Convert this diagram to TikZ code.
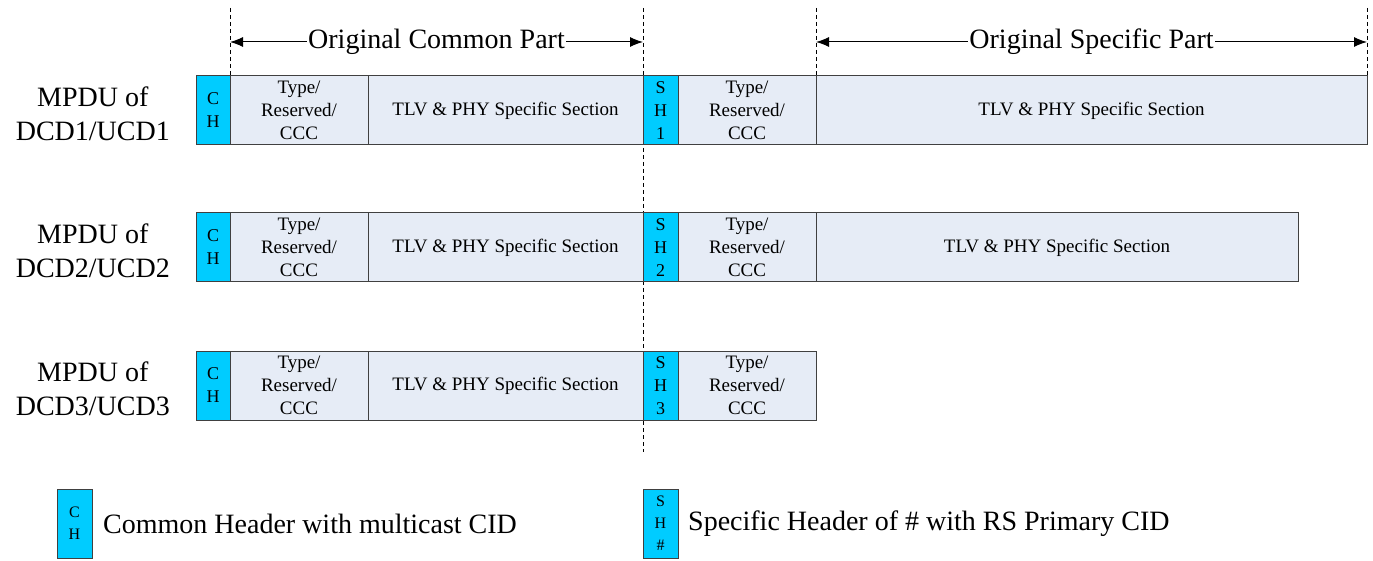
\documentclass[tikz,border=0pt]{standalone}
\usepackage{fontspec}
\setmainfont{Liberation Serif}
\usepackage{xcolor}
\usetikzlibrary{positioning,
	arrows.meta}
\definecolor{hdrcyan}{RGB}{0,204,255}
\definecolor{fldblue}{RGB}{230,236,246}
\definecolor{edgegray}{RGB}{64,64,64}
\tikzset{
	box/.style={draw=edgegray, line width=1pt, inner sep=0pt, outer sep=0pt,
		minimum height=69pt, anchor=north west, align=center},
	hdr/.style={box, fill=hdrcyan, minimum width=34pt,
		font=\fontsize{18}{23}\selectfont},
	fld/.style={box, fill=fldblue, font=\fontsize{19}{23}\selectfont},
	rowlbl/.style={inner sep=0pt, align=center, font=\fontsize{28}{34}\selectfont},
	lgnd/.style={inner sep=0pt, anchor=west, font=\fontsize{28}{34}\selectfont},
	guide/.style={line width=0.8pt, dash pattern=on 4pt off 3pt},
	span/.style={line width=1pt, {Latex[length=13pt,width=10pt]}-{Latex[length=13pt,width=10pt]}},
	spantext/.style={fill=white, inner xsep=1pt, inner ysep=0pt, font=\fontsize{28}{34}\selectfont}
}

\begin{document}
\begin{tikzpicture}[x=1pt, y=-1pt]
	\useasboundingbox (0,0) rectangle (1373,561);
	% guide lines
	\coordinate (g1) at (230,8);
	\coordinate (g2) at (643,8);
	\coordinate (g3) at (816,8);
	\coordinate (g4) at (1367,8);
	\coordinate (g2e) at (643,452);
	\draw[guide] (g2) -- (g2e);
	% the three MPDUs
	\foreach \r/\y in {1/76,2/213,3/351} {
		\node[hdr] (ch\r) at (196,\y) {C\\H};
		\node[fld, minimum width=138pt, right=0pt of ch\r] (ty\r) {Type/\\Reserved/\\CCC};
		\node[fld, minimum width=275pt, right=0pt of ty\r] (tlv\r) {TLV \& PHY Specific Section};
		\node[hdr, minimum width=35pt, right=0pt of tlv\r] (sh\r) {S\\H\\\r};
		\node[fld, minimum width=138pt, right=0pt of sh\r] (sp\r) {Type/\\Reserved/\\CCC};
		\node[rowlbl, left=26pt of ch\r, yshift=-3pt] (lbl\r) {MPDU of\\DCD\r/UCD\r};
	}
	\node[fld, minimum width=551pt, right=0pt of sp1] (st1) {TLV \& PHY Specific Section};
	\node[fld, minimum width=482pt, right=0pt of sp2] (st2) {TLV \& PHY Specific Section};
	\draw[guide] (g1) -- (ty1.north west);
	\draw[guide] (g3) -- (st1.north west);
	\draw[guide] (g4) -- (st1.north east);
	% spans
	\coordinate (a1) at (230,42);
	\coordinate (a2) at (643,42);
	\coordinate (a3) at (816,42);
	\coordinate (a4) at (1367,42);
	\draw[span] (a1) -- node[spantext] {Original Common Part} (a2);
	\draw[span] (a3) -- node[spantext] {Original Specific Part} (a4);
	% legend
	\node[hdr, minimum width=35pt, font=\fontsize{16}{22}\selectfont] (kch) at (57,489) {C\\H};
	\node[lgnd, right=11pt of kch] (kchtxt) {Common Header with multicast CID};
	\node[hdr, minimum width=35pt, font=\fontsize{16}{22}\selectfont] (ksh) at (643,489) {S\\H\\\#};
	\node[lgnd, right=10pt of ksh] (kshtxt) {Specific Header of \# with RS Primary CID};
\end{tikzpicture}
\end{document}
